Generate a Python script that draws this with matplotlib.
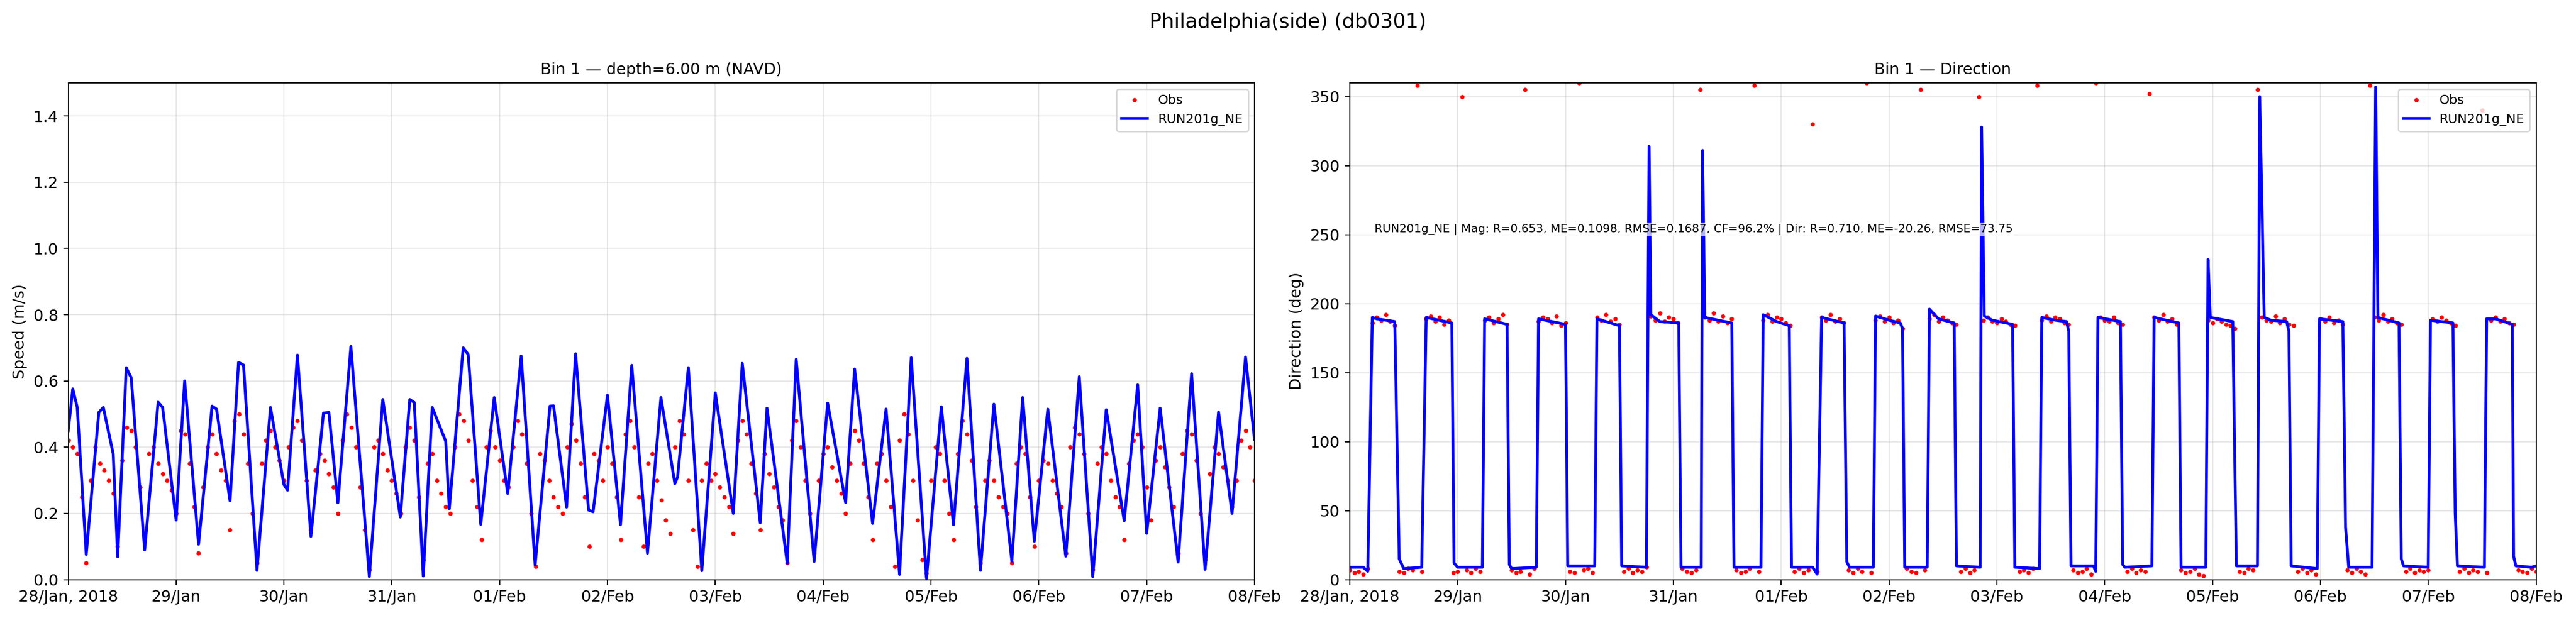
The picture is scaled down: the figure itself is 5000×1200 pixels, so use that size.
"""Plot ADCP bin 1 speed and direction, observations vs model run."""

import pandas as pd
import matplotlib.pyplot as plt
import matplotlib.dates as mdates
import numpy as np

plt.rcParams.update({
    'font.size': 11,
    'axes.titlesize': 11,
    'axes.labelsize': 11,
    'legend.fontsize': 9,
    'figure.dpi': 200,
})

t0 = pd.Timestamp('2018-01-28')
hours = np.arange(265)

# hourly observed speed (m/s), one row per day
obs_speed = np.array([
    0.42, 0.40, 0.38, 0.25, 0.05, 0.30, 0.40, 0.35, 0.33, 0.30, 0.26, 0.10, 0.36, 0.46, 0.45, 0.40, 0.28, 0.14, 0.38, 0.40, 0.35, 0.32, 0.30, 0.27,
    0.20, 0.45, 0.44, 0.35, 0.22, 0.08, 0.28, 0.40, 0.44, 0.38, 0.33, 0.30, 0.15, 0.48, 0.50, 0.44, 0.35, 0.20, 0.05, 0.35, 0.42, 0.45, 0.40, 0.36,
    0.30, 0.40, 0.46, 0.48, 0.42, 0.30, 0.15, 0.33, 0.38, 0.36, 0.32, 0.28, 0.20, 0.42, 0.50, 0.46, 0.40, 0.28, 0.15, 0.03, 0.40, 0.42, 0.38, 0.33,
    0.30, 0.26, 0.20, 0.40, 0.46, 0.42, 0.25, 0.06, 0.35, 0.38, 0.30, 0.26, 0.22, 0.20, 0.40, 0.50, 0.48, 0.42, 0.30, 0.22, 0.12, 0.40, 0.45, 0.40,
    0.36, 0.30, 0.28, 0.40, 0.48, 0.44, 0.35, 0.20, 0.04, 0.38, 0.36, 0.30, 0.25, 0.22, 0.20, 0.40, 0.47, 0.42, 0.35, 0.25, 0.10, 0.38, 0.36, 0.30,
    0.40, 0.35, 0.25, 0.12, 0.44, 0.48, 0.40, 0.25, 0.10, 0.35, 0.38, 0.30, 0.24, 0.18, 0.14, 0.40, 0.48, 0.44, 0.30, 0.15, 0.04, 0.30, 0.35, 0.30,
    0.32, 0.28, 0.25, 0.22, 0.14, 0.42, 0.48, 0.44, 0.35, 0.26, 0.15, 0.38, 0.32, 0.28, 0.22, 0.18, 0.05, 0.42, 0.48, 0.40, 0.30, 0.20, 0.08, 0.30,
    0.38, 0.40, 0.34, 0.30, 0.26, 0.20, 0.35, 0.45, 0.42, 0.35, 0.25, 0.12, 0.35, 0.38, 0.30, 0.22, 0.04, 0.42, 0.50, 0.44, 0.30, 0.18, 0.06, 0.02,
    0.30, 0.40, 0.38, 0.30, 0.20, 0.12, 0.38, 0.48, 0.44, 0.36, 0.22, 0.05, 0.30, 0.36, 0.30, 0.25, 0.22, 0.20, 0.05, 0.35, 0.40, 0.38, 0.25, 0.10,
    0.30, 0.36, 0.35, 0.30, 0.26, 0.22, 0.08, 0.40, 0.46, 0.44, 0.38, 0.20, 0.03, 0.35, 0.40, 0.38, 0.30, 0.25, 0.22, 0.12, 0.35, 0.42, 0.44, 0.40,
    0.28, 0.18, 0.36, 0.40, 0.34, 0.28, 0.22, 0.08, 0.38, 0.45, 0.44, 0.36, 0.20, 0.06, 0.32, 0.40, 0.38, 0.34, 0.30, 0.22, 0.30, 0.42, 0.45, 0.40, 0.30,
])

# hourly observed direction (deg)
obs_dir = np.array([
    7, 5, 6, 4, 8, 186, 190, 188, 192, 187, 184, 6, 5, 8, 7, 358, 6, 189, 191, 187, 190, 185, 188, 5,
    6, 350, 7, 5, 8, 6, 188, 190, 186, 189, 192, 185, 7, 5, 6, 355, 4, 8, 187, 190, 189, 186, 191, 184,
    186, 6, 5, 360, 7, 8, 5, 190, 188, 192, 187, 189, 185, 6, 8, 5, 7, 6, 9, 191, 188, 193, 187, 190,
    189, 186, 8, 6, 5, 7, 355, 190, 188, 193, 187, 191, 186, 189, 7, 5, 6, 8, 358, 6, 188, 192, 187, 190,
    189, 186, 184, 6, 8, 5, 7, 330, 6, 190, 188, 192, 187, 189, 186, 7, 5, 8, 6, 360, 5, 188, 191, 187,
    190, 186, 188, 182, 8, 6, 5, 355, 7, 189, 192, 187, 190, 188, 186, 185, 6, 8, 5, 7, 350, 188, 190, 187,
    186, 189, 187, 185, 184, 6, 7, 5, 8, 358, 188, 191, 187, 190, 189, 186, 185, 7, 5, 6, 8, 4, 360, 190,
    188, 187, 190, 186, 185, 6, 8, 5, 7, 6, 352, 190, 188, 192, 187, 189, 185, 7, 5, 6, 8, 4, 3, 188,
    186, 189, 187, 185, 184, 182, 6, 5, 8, 7, 355, 190, 188, 187, 191, 186, 189, 185, 184, 6, 8, 5, 7, 4,
    189, 187, 190, 186, 188, 185, 7, 5, 8, 6, 4, 358, 190, 188, 192, 187, 189, 186, 185, 6, 8, 5, 7, 6,
    7, 189, 187, 190, 188, 186, 184, 6, 8, 5, 7, 6, 340, 5, 188, 190, 187, 189, 186, 185, 7, 6, 5, 8, 6,
])

# model speed (hour, m/s)
mod_speed = [
    (0, 0.45), (1, 0.576), (2, 0.52), (4, 0.076), (6.8, 0.505), (7.8, 0.52), (10, 0.38), (11, 0.069),
    (12.9, 0.64), (14, 0.61), (17, 0.09), (20, 0.536), (21, 0.52), (24, 0.18), (25.9, 0.60), (29, 0.107),
    (32, 0.524), (33, 0.515), (36, 0.238), (37.9, 0.656), (39, 0.648), (42, 0.028), (45, 0.52), (48, 0.287),
    (48.8, 0.27), (51, 0.678), (54, 0.131), (56.8, 0.503), (58, 0.505), (60, 0.232), (62.9, 0.704), (67, 0.009),
    (70, 0.544), (73.9, 0.189), (76, 0.544), (77, 0.535), (79, 0.011), (81, 0.52), (84, 0.418), (84.8, 0.214),
    (87.9, 0.70), (89, 0.68), (91.8, 0.167), (94.8, 0.55), (97.8, 0.26), (100.8, 0.675), (103.9, 0.044),
    (107.2, 0.524), (108, 0.525), (110.9, 0.219), (112.9, 0.682), (115.8, 0.21), (116.8, 0.205), (120, 0.557),
    (122.9, 0.166), (125.4, 0.647), (128.9, 0.08), (131.9, 0.55), (135, 0.29), (135.6, 0.31), (138, 0.64),
    (141, 0.027), (144, 0.564), (148, 0.2), (150, 0.653), (154, 0.172), (155.5, 0.518), (160, 0.05),
    (162, 0.665), (166, 0.055), (169, 0.533), (173, 0.233), (175, 0.636), (179, 0.17), (182, 0.515),
    (185, 0.016), (187.6, 0.67), (191, 0.004), (194.3, 0.522), (197, 0.166), (200, 0.668), (203, 0.028),
    (206, 0.53), (210, 0.056), (212.4, 0.55), (215, 0.116), (218, 0.515), (222, 0.071), (225, 0.613),
    (228, 0.009), (231, 0.513), (235, 0.178), (238, 0.588), (240, 0.14), (243, 0.518), (247, 0.053),
    (250, 0.622), (253, 0.031), (256, 0.506), (259, 0.2), (262, 0.672), (264, 0.424),
]

# model direction (hour, deg)
mod_dir = [
    (0, 9), (3, 9), (4, 6), (5, 190), (6, 189), (10, 187), (11, 15), (12, 8), (16, 9), (17, 190), (22.7, 186),
    (23.2, 12), (24, 9), (29.5, 9), (30, 189), (35, 185), (35.5, 11), (36, 8), (41.5, 9), (42, 189), (48, 185),
    (48.5, 10), (54.5, 10), (55, 189), (60, 184), (60.5, 10), (66, 9), (66.6, 314), (67, 192), (69, 187),
    (73.2, 186), (73.7, 9), (78.2, 9), (78.5, 311), (79, 190), (85, 186), (85.5, 9), (91.5, 9), (92, 192),
    (95, 187), (97.8, 184), (98.3, 9), (103, 9), (104, 4), (105, 190), (110, 186), (110.6, 13), (111.2, 9),
    (116.5, 9), (117, 191), (120, 188), (122.5, 186), (123, 182), (123.5, 9), (128.5, 9), (129, 196),
    (131, 189), (134.5, 186), (135, 10), (140.3, 9), (140.6, 328), (141.2, 191), (143, 188), (147.5, 185),
    (148, 9), (153.5, 8), (154, 190), (157, 188), (159.5, 187), (160, 180), (160.5, 10), (165.5, 10),
    (166, 6), (166.5, 190), (171.5, 187), (172, 11), (172.5, 9), (178.5, 10), (179, 190), (184.5, 186),
    (185, 9), (190.5, 9), (191, 232), (191.5, 190), (196.5, 187), (197.3, 10), (202, 10), (202.5, 350),
    (203.5, 190), (205, 188), (208.5, 187), (209, 180), (209.5, 10), (215.3, 8), (215.8, 189), (221, 187),
    (221.6, 38), (222.3, 9), (227.5, 9), (228.3, 357), (228.8, 190), (233.5, 186), (234, 15), (234.5, 10),
    (240, 9), (240.5, 188), (245.5, 186), (246, 48), (246.5, 10), (252.5, 9), (253, 189), (255, 189),
    (258.7, 185), (259, 17), (259.5, 10), (263, 9), (264, 10),
]

obs_t = t0 + pd.to_timedelta(hours, unit='h')
ms_t = t0 + pd.to_timedelta([p[0] for p in mod_speed], unit='h')
md_t = t0 + pd.to_timedelta([p[0] for p in mod_dir], unit='h')


def date_fmt(x, pos=None):
    d = mdates.num2date(x)
    if d.day == 28 and d.month == 1:
        return d.strftime('%d/%b, %Y')
    return d.strftime('%d/%b')


fig, (ax1, ax2) = plt.subplots(1, 2, figsize=(25, 6))
ax1.set_position([0.0265, 0.062, 0.4605, 0.804])
ax2.set_position([0.524, 0.062, 0.4605, 0.804])

ax1.plot(obs_t, obs_speed, '.', color='red', markersize=4, label='Obs')
ax1.plot(ms_t, [p[1] for p in mod_speed], '-', color='blue', linewidth=2, label='RUN201g_NE')
ax1.set_ylim(0, 1.5)
ax1.set_ylabel('Speed (m/s)')
ax1.set_title('Bin 1 — depth=6.00 m (NAVD)')

ax2.plot(obs_t, obs_dir, '.', color='red', markersize=4, label='Obs')
ax2.plot(md_t, [p[1] for p in mod_dir], '-', color='blue', linewidth=2, label='RUN201g_NE')
ax2.set_ylim(0, 360)
ax2.set_ylabel('Direction (deg)')
ax2.set_title('Bin 1 — Direction')
ax2.text(0.021, 0.705, 'RUN201g_NE | Mag: R=0.653, ME=0.1098, RMSE=0.1687, CF=96.2% | '
         'Dir: R=0.710, ME=-20.26, RMSE=73.75', transform=ax2.transAxes, fontsize=8,
         va='center', bbox=dict(facecolor='white', edgecolor='none', alpha=0.7, pad=1))

for ax in (ax1, ax2):
    ax.set_xlim(t0, t0 + pd.Timedelta(days=11))
    ax.xaxis.set_major_locator(mdates.DayLocator())
    ax.xaxis.set_major_formatter(plt.FuncFormatter(date_fmt))
    ax.grid(True, alpha=0.3)
    ax.legend(loc='upper right')

fig.suptitle('Philadelphia(side) (db0301)', fontsize=14)

plt.savefig('out.png', dpi=200)
plt.close()
